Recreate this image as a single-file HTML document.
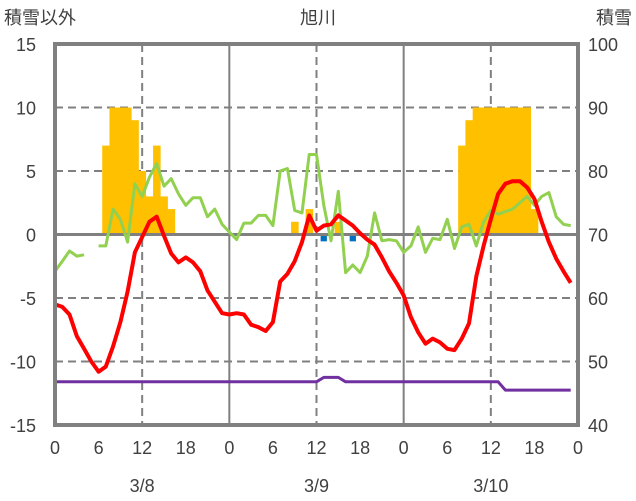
<!DOCTYPE html>
<html><head><meta charset="utf-8"><style>
html,body{margin:0;padding:0;background:#fff;width:636px;height:501px;overflow:hidden}
svg{display:block;font-family:"Liberation Sans","Noto Sans CJK JP",sans-serif}
</style></head><body>
<svg id="chart" width="636" height="501" viewBox="0 0 636 501"></svg>
<script>
const hours=[];for(let i=0;i<72;i++)hours.push(i);
const temperature=[-5.5,-5.7,-6.3,-8,-9,-10,-10.8,-10.4,-8.8,-6.9,-4.5,-1.4,-0.2,1.0,1.4,-0.1,-1.5,-2.2,-1.8,-2.2,-2.9,-4.4,-5.3,-6.2,
-6.3,-6.2,-6.3,-7.1,-7.3,-7.6,-6.9,-3.7,-3.1,-2.1,-0.6,1.5,0.3,0.7,0.8,1.5,1.1,0.7,0.1,-0.4,-0.8,-1.8,-2.9,-3.8,
-4.8,-6.5,-7.7,-8.6,-8.2,-8.5,-9.0,-9.1,-8.2,-7.0,-3.3,-0.9,1.2,3.2,4.0,4.2,4.2,3.7,2.8,1.0,-0.6,-1.9,-2.9,-3.8];
const wind=[-2.9,-2.1,-1.3,-1.7,-1.6,null,-0.9,-0.9,2.0,1.2,-0.6,4.0,3.0,4.5,5.6,3.8,4.4,3.2,2.3,2.9,2.9,1.4,2.0,0.8,
0.2,-0.4,0.9,0.9,1.5,1.5,0.7,5.0,5.2,1.9,1.7,6.3,6.3,2.3,-0.5,3.4,-3.0,-2.4,-3.0,-1.7,1.7,-0.5,-0.4,-0.5,
-1.4,-0.9,0.6,-1.4,-0.3,-0.4,1.2,-1.1,0.6,0.8,-0.9,1.0,1.9,1.6,1.8,2.0,2.5,3.0,2.3,3.0,3.3,1.4,0.8,0.7];
const snowDepth=[];for(let i=0;i<72;i++)snowDepth.push(i>=37&&i<=39?47.5:(i>=62?45.5:46.8));
const snowHours=[7,8,9,10,11,12,13,14,15,16,33,35,39,56,57,58,59,60,61,62,63,64,65,66];
const snowValues=[7,10,10,10,9,5,3,7,3,2,1,2,1,7,9,10,10,10,10,10,10,10,10,2];
const negHours=[37,41];
const negValues=[-0.5,-0.5];
const leftTicks=[-15,-10,-5,0,5,10,15];
const rightTicks=[40,50,60,70,80,90,100];
const hourLabels=["0","6","12","18","0","6","12","18","0","6","12","18","0"];
const dateLabels=["3/8","3/9","3/10"];

const X0=55,X1=578,Y0=44,Y1=425;
const xs=h=>X0+(X1-X0)*h/72;
const yl=v=>Y1-(v+15)/30*(Y1-Y0);
const yr=v=>Y1-(v-40)/60*(Y1-Y0);
const svg=document.getElementById('chart');
const NS='http://www.w3.org/2000/svg';
function mk(t,a,p){const e=document.createElementNS(NS,t);for(const k in a)e.setAttribute(k,a[k]);(p||svg).appendChild(e);return e;}
const G='#808080';
// grid
leftTicks.forEach(v=>{if(v===15||v===-15)return;
 const l=mk('line',{x1:X0,x2:X1,y1:yl(v),y2:yl(v),stroke:G,'stroke-width':v===0?3:2,'stroke-dasharray':v===0?'':'8,5'});
 
 });
for(let h=12;h<72;h+=12){
 const l=mk('line',{x1:xs(h),x2:xs(h),y1:Y0,y2:Y1,stroke:G,'stroke-width':2,'stroke-dasharray':h%24?'8,5':''});
 
 }
// bars
const bw=(X1-X0)/72;
snowHours.forEach((h,i)=>{const v=snowValues[i];
 const r=mk('rect',{x:xs(h)-bw/2,y:yl(v),width:bw+0.3,height:yl(0)-yl(v)-1.5,fill:'#FFC000'});
 
 });
negHours.forEach((h,i)=>{const v=negValues[i];
 const r=mk('rect',{x:xs(h)-bw/2+0.5,y:yl(0)+1.5,width:bw-1,height:yl(v)-yl(0)-1,fill:'#0070C0'});
 
 });
function line(arr,yf,color,name){let d='',pen=false;
 arr.forEach((v,i)=>{if(v===null){pen=false;return;}d+=(pen?'L':'M')+xs(hours[i]).toFixed(1)+','+yf(v).toFixed(1);pen=true;});
 const p=mk('path',{d:d,fill:'none',stroke:color,'stroke-width':name==='temperature-line'?4:3,'stroke-linejoin':'round'});
 
 }
line(wind,yl,'#92D050','wind-line');
line(temperature,yl,'#FF0000','temperature-line');
line(snowDepth,yr,'#7030A0','snow-depth-line');
// frame
const f=mk('rect',{x:X0,y:Y0,width:X1-X0,height:Y1-Y0,fill:'none',stroke:G,'stroke-width':4});


function txt(s,x,y,anchor,name,size){const t=mk('text',{x:x,y:y,'text-anchor':anchor,'font-size':size||18,fill:'#404040'});t.textContent=s;
 
 return t;}
leftTicks.forEach(v=>txt(String(v),36,yl(v)+7,'end','left-tick-label'));
rightTicks.forEach((v,i)=>txt(String(v),588,yr(v)+7,'start','right-tick-label'));
hourLabels.forEach((s,i)=>txt(s,xs(i*6),454,'middle','hour-label'));
dateLabels.forEach((s,i)=>txt(s,xs(12+24*i),492,'middle','date-label'));
txt('積雪以外',4,24,'start','left-axis-title');
txt('旭川',318,24,'middle','chart-title');
txt('積雪',632,24,'end','right-axis-title');
</script>
</body></html>
